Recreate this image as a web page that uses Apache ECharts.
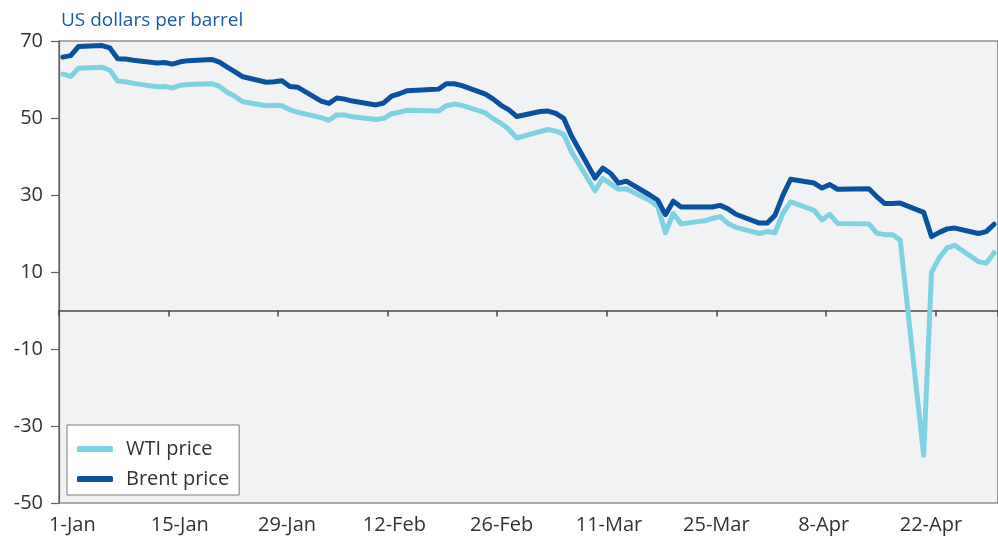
<!DOCTYPE html>
<html>
<head>
<meta charset="utf-8">
<script src="https://cdn.jsdelivr.net/npm/echarts@6/dist/echarts.min.js"></script>
<style>
html,body{margin:0;padding:0;background:#ffffff;}
#chart{width:998px;height:541px;}
</style>
</head>
<body>
<div id="chart"></div>
<script>
// ---- Data (daily, 1-Jan to 29-Apr; null = no trading) ----
const startDay = {year: 2020, month: 0, day: 1};
const dayCount = 120;
const monthNames = ['Jan','Feb','Mar','Apr','May','Jun','Jul','Aug','Sep','Oct','Nov','Dec'];

const wti = [
  61.4, 60.8, 62.9, null, null,
  63.2, 62.4, 59.6, 59.4, 59.0, null, null,
  58.1, 58.2, 57.8, 58.5, 58.7, null, null,
  58.9, 58.2, 56.7, 55.6, 54.2, null, null,
  53.2, 53.3, 53.2, 52.1, 51.5, null, null,
  50.1, 49.4, 50.8, 50.8, 50.3, null, null,
  49.6, 49.9, 51.1, 51.5, 52.0, null, null,
  null, 51.8, 53.2, 53.6, 53.3, null, null,
  51.3, 49.8, 48.6, 47.0, 44.8, null, null,
  46.5, 47.0, 46.6, 45.7, 41.2, null, null,
  31.1, 34.3, 32.9, 31.5, 31.6, null, null,
  28.6, 27.0, 20.2, 25.2, 22.5, null, null,
  23.3, 23.9, 24.4, 22.6, 21.6, null, null,
  20.0, 20.5, 20.2, 25.2, 28.2, null, null,
  26.0, 23.5, 25.0, 22.6, null, null, null,
  22.5, 20.1, 19.7, 19.7, 18.3, null, null,
  -37.6, 9.9, 13.7, 16.3, 16.9, null, null,
  12.7, 12.3, 15.0
];

const brent = [
  65.8, 66.2, 68.6, null, null,
  68.8, 68.2, 65.4, 65.3, 65.0, null, null,
  64.3, 64.4, 64.0, 64.6, 64.9, null, null,
  65.2, 64.5, 63.2, 62.0, 60.7, null, null,
  59.3, 59.4, 59.7, 58.2, 58.0, null, null,
  54.4, 53.8, 55.2, 54.9, 54.4, null, null,
  53.4, 53.9, 55.7, 56.3, 57.1, null, null,
  57.4, 57.5, 58.9, 58.9, 58.4, null, null,
  56.2, 54.9, 53.3, 52.1, 50.4, null, null,
  51.7, 51.8, 51.2, 49.9, 45.3, null, null,
  34.4, 37.0, 35.6, 33.1, 33.6, null, null,
  30.0, 28.7, 24.9, 28.4, 26.9, null, null,
  26.9, 26.9, 27.3, 26.4, 25.0, null, null,
  22.7, 22.7, 24.7, 29.9, 34.1, null, null,
  33.1, 31.8, 32.7, 31.5, null, null, null,
  31.6, 29.6, 27.8, 27.8, 27.9, null, null,
  25.5, 19.2, 20.3, 21.2, 21.4, null, null,
  20.0, 20.5, 22.4
];

const xTickLabels = ['1-Jan','15-Jan','29-Jan','12-Feb','26-Feb','11-Mar','25-Mar','8-Apr','22-Apr'];
const yMin = -50, yMax = 70, yStep = 20;
const seriesNames = ['WTI price', 'Brent price'];
const unitLabel = 'US dollars per barrel';

// ---- Build categories ----
const dates = [];
for (let i = 0; i < dayCount; i++) {
  const d = new Date(Date.UTC(startDay.year, startDay.month, startDay.day + i));
  dates.push(d.getUTCDate() + '-' + monthNames[d.getUTCMonth()]);
}
const labelSlots = [];
for (let k = 0; k < 35; k++) {
  labelSlots.push(k % 4 === 0 && xTickLabels[k / 4] !== undefined ? xTickLabels[k / 4] : '');
}

const FONT = '"Open Sans", "Noto Sans", sans-serif';
const chart = echarts.init(document.getElementById('chart'), null, {renderer: 'canvas'});
chart.setOption({
  animation: false,
  backgroundColor: '#ffffff',
  textStyle: {fontFamily: FONT},
  title: {
    text: unitLabel,
    left: 56, top: 6,
    textStyle: {color: '#1b5aa5', fontSize: 19, fontWeight: 'normal', fontFamily: FONT}
  },
  legend: {
    orient: 'vertical',
    left: 67, top: 425,
    backgroundColor: '#ffffff',
    borderColor: '#7a7a7a', borderWidth: 1,
    padding: [12, 10, 4, 10],
    itemGap: 6,
    itemWidth: 36, itemHeight: 6,
    icon: 'roundRect',
    textStyle: {color: '#333333', fontSize: 20, fontFamily: FONT, lineHeight: 24, padding: [0, 0, 0, 8]},
    data: seriesNames
  },
  grid: {
    left: 59, right: -1, top: 41, bottom: 38,
    show: true, backgroundColor: '#f1f2f4',
    borderColor: '#606060', borderWidth: 1.2,
    containLabel: false
  },
  xAxis: [
    {
      type: 'category', data: dates, boundaryGap: true,
      axisLine: {onZero: true, lineStyle: {color: '#4a4a4a', width: 1.6}},
      axisTick: {show: true, interval: 13, length: 6, lineStyle: {color: '#4a4a4a', width: 1.5}},
      axisLabel: {show: false},
      splitLine: {show: false}
    },
    {
      type: 'category', data: labelSlots, boundaryGap: true, position: 'bottom',
      axisLine: {show: false, onZero: false},
      axisTick: {show: false},
      axisLabel: {show: true, interval: 3, margin: 12, color: '#333333', fontSize: 20, fontFamily: FONT},
      splitLine: {show: false}
    }
  ],
  yAxis: {
    type: 'value', min: yMin, max: yMax, interval: yStep,
    axisLine: {show: true, lineStyle: {color: '#606060', width: 1.2}},
    axisTick: {show: true, length: 8, lineStyle: {color: '#606060', width: 1.2}},
    axisLabel: {color: '#333333', fontSize: 20, margin: 16, fontFamily: FONT},
    splitLine: {show: false}
  },
  series: [
    {
      name: seriesNames[0], type: 'line', data: wti, xAxisIndex: 0,
      connectNulls: true, showSymbol: false, symbol: 'none',
      lineStyle: {color: '#7fd2e2', width: 5, join: 'round', cap: 'round'},
      itemStyle: {color: '#7fd2e2'}
    },
    {
      name: seriesNames[1], type: 'line', data: brent, xAxisIndex: 0,
      connectNulls: true, showSymbol: false, symbol: 'none',
      lineStyle: {color: '#0b529e', width: 5, join: 'round', cap: 'round'},
      itemStyle: {color: '#0b529e'}
    }
  ]
});
</script>
</body>
</html>
